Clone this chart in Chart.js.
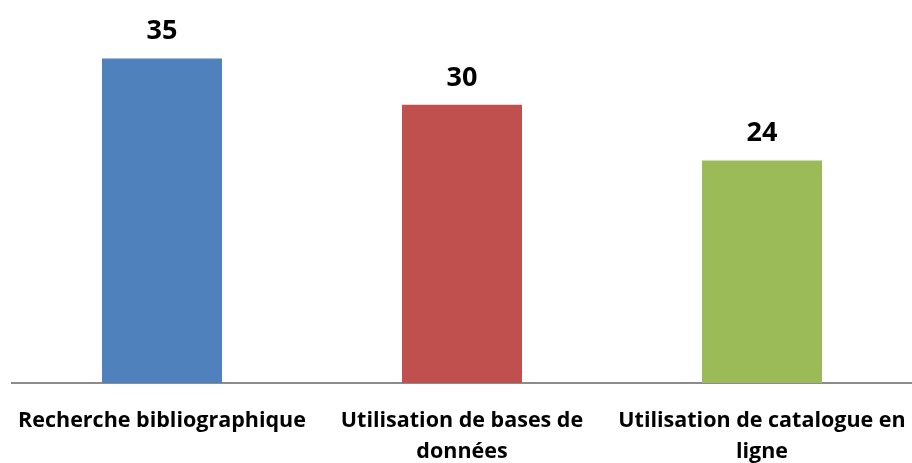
<!DOCTYPE html>
<html>
<head>
<meta charset="utf-8">
<script src="https://cdn.jsdelivr.net/npm/chart.js@4"></script>
<style>
  html, body { margin: 0; padding: 0; background: #fff; }
  #wrap { width: 912px; height: 463px; }
</style>
</head>
<body>
<div id="wrap"><canvas id="myChart"></canvas></div>
<script>
const categories = [
  ['Recherche bibliographique'],
  ['Utilisation de bases de', 'données'],
  ['Utilisation de catalogue en', 'ligne']
];
const values = [35, 30, 24];
const barColors = ['#4F81BD', '#C0504D', '#9BBB59'];

// draws the value above each bar
const valueLabels = {
  id: 'valueLabels',
  afterDatasetsDraw(chart) {
    const ctx = chart.ctx;
    const meta = chart.getDatasetMeta(0);
    ctx.save();
    ctx.font = 'bold 27px "Open Sans"';
    ctx.fillStyle = '#000';
    ctx.textAlign = 'center';
    ctx.textBaseline = 'alphabetic';
    meta.data.forEach((bar, i) => {
      ctx.fillText(values[i], bar.x, bar.y - 19);
    });
    ctx.restore();
  }
};

var ctx = document.getElementById('myChart');

var myChart = new Chart(ctx, {
  type: 'bar',
  data: {
    labels: categories,
    datasets: [{
      data: values,
      backgroundColor: barColors,
      borderWidth: 0,
      categoryPercentage: 1,
      barPercentage: 0.4
    }]
  },
  options: {
    responsive: true,
    maintainAspectRatio: false,
    animation: false,
    layout: { padding: { left: 12, right: 0, top: 12, bottom: 0 } },
    plugins: {
      legend: { display: false },
      tooltip: { enabled: false }
    },
    scales: {
      y: {
        display: false,
        min: 0,
        max: 40
      },
      x: {
        grid: { display: false },
        border: { display: true, color: '#8c8c8c', width: 2 },
        ticks: {
          color: '#000',
          font: { family: '"Open Sans"', size: 21.5, weight: 'bold', lineHeight: 1.42 },
          padding: 15,
          maxRotation: 0,
          autoSkip: false
        },
        afterFit(scale) {
          scale.height = 80;
          scale.paddingLeft = 0;
          scale.paddingRight = 0;
        }
      }
    }
  },
  plugins: [valueLabels]
});
</script>
</body>
</html>
